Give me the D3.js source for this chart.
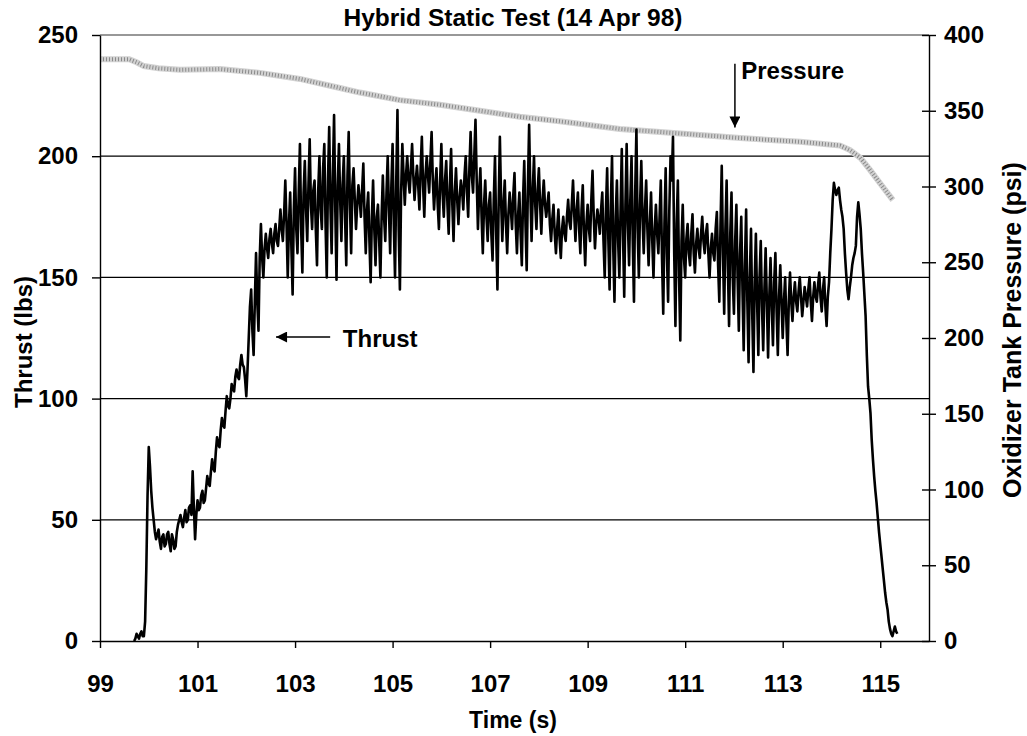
<!DOCTYPE html>
<html>
<head>
  <title>Hybrid Static Test</title>
  <meta charset="utf-8">
  <script src="https://d3js.org/d3.v7.min.js"></script>
  <style>
    body { margin: 0; background: #fff; }
    svg text { font-family: "Liberation Sans", Arial, sans-serif; font-weight: bold; fill: #000; }
    .grid line { stroke: #000; stroke-width: 1.2px; }
    .axis path, .axis line { stroke: #000; stroke-width: 1.4px; }
  </style>
</head>
<body>
  <svg id="chart" width="1027" height="736"></svg>
  <script>
    // time axis ticks (s)
    var timeTicks = [99, 101, 103, 105, 107, 109, 111, 113, 115];
    var thrustTicks = [0, 50, 100, 150, 200, 250];
    var pressureTicks = [0, 50, 100, 150, 200, 250, 300, 350, 400];

    // thrust record (lbs), sampled every 0.05 s starting at 99.70 s
    var thrustStart = 99.70, thrustStep = 0.05;
    var thrust = [
      0, 3, 1, 4, 2, 30, 80, 62, 50, 42,
      46, 38, 44, 40, 45, 37, 42, 39, 48, 52,
      47, 54, 50, 56, 70, 42, 58, 55, 62, 58,
      68, 64, 75, 70, 84, 80, 92, 88, 101, 96,
      106, 103, 112, 108, 118, 113, 101, 125, 145, 118,
      160, 128, 172, 150, 168, 158, 170, 160, 172, 163,
      178, 165, 190, 150, 185, 143, 195, 160, 205, 152,
      198, 165, 207, 170, 190, 155, 200, 170, 205, 150,
      212, 160, 217, 149, 205, 165, 200, 155, 210, 160,
      195, 170, 188, 175, 197, 160, 185, 148, 190, 155,
      180, 150, 192, 165, 200, 160, 205, 150, 219, 145,
      205, 180, 200, 185, 205, 182, 196, 178, 208, 175,
      200, 185, 210, 178, 195, 170, 205, 175, 198, 168,
      203, 165, 195, 172, 190, 178, 200, 175, 210, 185,
      215, 170, 195, 160, 190, 165, 185, 157, 200, 145,
      208, 165, 190, 160, 185, 170, 193, 160, 185, 155,
      198, 153, 213, 165, 200, 170, 195, 168, 190, 175,
      185, 165, 180, 160, 178, 158, 175, 165, 182, 170,
      190, 165, 185, 160, 188, 155, 180, 165, 194, 162,
      178, 168, 185, 150, 195, 145, 200, 140, 190, 150,
      203, 142, 205, 155, 200, 140, 211, 150, 198, 160,
      190, 155, 185, 150, 180, 160, 190, 135, 195, 140,
      200, 208, 130, 190, 124, 180, 150, 172, 155, 176,
      152, 170, 158, 175, 160, 172, 150, 168, 157, 177,
      140, 196, 135, 190, 130, 185, 135, 180, 128, 175,
      120, 178, 115, 170, 111, 168, 118, 165, 120, 162,
      117, 158, 122, 160, 118, 155, 125, 150, 118, 152,
      132, 148, 136, 150, 134, 146, 138, 150, 132, 148,
      140, 152, 136, 150, 130, 148, 170, 189, 184, 187,
      178, 170, 152, 141, 150, 158, 163, 181, 170, 152,
      134, 105, 94, 75, 62, 51, 40, 30, 20, 13,
      5, 2, 6, 3
    ];
    // in-between thrust samples (lbs), at 99.725 s and every 0.05 s after
    var thrustMid = [
      1, 2, 3, 2, 8, 60, 72, 55, 45, 44,
      41, 43, 39, 44, 40, 44, 38, 45, 50, 49,
      51, 49, 55, 52, 55, 52, 54, 60, 57, 63,
      65, 70, 71, 78, 81, 87, 89, 95, 97, 100,
      104, 109, 109, 114, 114, 108, 112, 138, 128, 140,
      140, 158, 158, 162, 162, 166, 164, 168, 165, 170,
      170, 176, 172, 172, 162, 178, 170, 185, 170, 185,
      178, 188, 180, 186, 170, 186, 178, 195, 172, 190,
      180, 192, 178, 188, 182, 188, 175, 192, 180, 188,
      182, 180, 182, 186, 175, 178, 165, 175, 170, 175,
      165, 175, 175, 185, 178, 188, 172, 190, 170, 185,
      192, 192, 190, 195, 192, 190, 188, 195, 188, 192,
      192, 198, 190, 188, 180, 190, 185, 190, 180, 188,
      180, 185, 182, 183, 186, 192, 185, 195, 192, 200,
      190, 185, 175, 180, 175, 180, 168, 182, 168, 180,
      182, 180, 172, 176, 178, 184, 172, 176, 168, 182,
      172, 188, 185, 186, 180, 186, 180, 182, 180, 180,
      172, 174, 168, 170, 166, 170, 168, 175, 173, 180,
      176, 178, 170, 178, 168, 172, 170, 182, 175, 172,
      174, 178, 165, 178, 165, 180, 162, 175, 165, 178,
      168, 180, 172, 182, 165, 185, 170, 180, 175, 178,
      170, 172, 165, 170, 168, 175, 158, 172, 160, 178,
      190, 160, 172, 150, 165, 158, 166, 160, 168, 160,
      164, 162, 168, 165, 168, 160, 162, 160, 170, 155,
      172, 160, 170, 155, 168, 150, 165, 150, 160, 145,
      155, 140, 150, 135, 148, 140, 150, 138, 145, 140,
      142, 138, 148, 136, 142, 140, 140, 132, 140, 140,
      142, 140, 144, 142, 140, 142, 145, 140, 142, 142,
      147, 142, 145, 138, 142, 160, 182, 186, 186, 182,
      175, 160, 145, 146, 155, 160, 175, 176, 160, 143,
      118, 100, 83, 68, 57, 45, 35, 25, 16, 8,
      3, 4, 4
    ];

    // oxidizer tank pressure (psi)
    var pressureTime = [99.0, 99.6, 99.75, 99.9, 100.2, 100.64, 101.46, 102.28, 103.1, 103.92, 104.33,
      105.15, 105.97, 106.79, 107.61, 108.43, 109.66, 110.9, 112.13, 113.36, 114.18,
      114.38, 114.59, 114.79, 115.0, 115.26];
    var pressure = [384, 384, 382, 379.5, 378, 377, 377.5, 375, 371, 365, 362,
      357, 354, 350, 346, 343, 338, 335, 332, 329.5, 327,
      324, 319, 311, 302, 291];

    var thrustData = thrust.map(function (v, i) {
      return { t: thrustStart + i * thrustStep, v: v };
    }).concat(thrustMid.map(function (v, i) {
      return { t: thrustStart + thrustStep / 2 + i * thrustStep, v: v };
    })).sort(function (a, b) { return a.t - b.t; });

    var svg = d3.select('#chart');
    var plotLeft = 100, plotRight = 929, plotTop = 35, plotBottom = 641;

    var x = d3.scaleLinear().domain([99, 116]).range([plotLeft, plotRight]);
    var yT = d3.scaleLinear().domain([0, 250]).range([plotBottom, plotTop]);
    var yP = d3.scaleLinear().domain([0, 400]).range([plotBottom, plotTop]);

    // horizontal gridlines
    svg.append('g').attr('class', 'grid')
      .selectAll('line').data([50, 100, 150, 200]).enter().append('line')
      .attr('x1', plotLeft).attr('x2', plotRight)
      .attr('y1', function (d) { return yT(d); })
      .attr('y2', function (d) { return yT(d); });

    // top border
    svg.append('line')
      .attr('x1', plotLeft).attr('x2', plotRight).attr('y1', plotTop).attr('y2', plotTop)
      .style('stroke', '#333').style('stroke-width', 1.2);

    // pressure line (stippled grey band)
    var pLine = d3.line()
      .x(function (d, i) { return x(pressureTime[i]); })
      .y(function (d) { return yP(d); });
    svg.append('path').datum(pressure)
      .attr('d', pLine)
      .style('fill', 'none').style('stroke', '#d2d2d2').style('stroke-width', 6);
    svg.append('path').datum(pressure)
      .attr('d', pLine)
      .style('fill', 'none').style('stroke', '#8a8a8a').style('stroke-width', 4)
      .style('stroke-dasharray', '1 2');

    // thrust line
    var tLine = d3.line()
      .x(function (d) { return x(d.t); })
      .y(function (d) { return yT(d.v); });
    svg.append('path').datum(thrustData)
      .attr('d', tLine)
      .style('fill', 'none').style('stroke', '#000').style('stroke-width', 2.6)
      .style('stroke-linejoin', 'round');

    // axes
    var xAxis = svg.append('g').attr('class', 'axis')
      .attr('transform', 'translate(0,' + plotBottom + ')')
      .call(d3.axisBottom(x).tickValues(timeTicks).tickSize(7).tickSizeOuter(0).tickPadding(27));
    xAxis.selectAll('text').style('font-size', '24px');

    var lAxis = svg.append('g').attr('class', 'axis')
      .attr('transform', 'translate(' + plotLeft + ',0)')
      .call(d3.axisLeft(yT).tickValues(thrustTicks).tickSize(8).tickSizeOuter(0).tickPadding(14));
    lAxis.selectAll('text').style('font-size', '24px');

    var rAxis = svg.append('g').attr('class', 'axis')
      .attr('transform', 'translate(' + plotRight + ',0)')
      .call(d3.axisRight(yP).tickValues(pressureTicks).tickSize(7).tickSizeOuter(0).tickPadding(8));
    rAxis.selectAll('line').attr('x1', -7);
    rAxis.selectAll('text').style('font-size', '24px');

    // titles
    svg.append('text').attr('x', 513).attr('y', 26)
      .attr('text-anchor', 'middle').style('font-size', '24.5px')
      .text('Hybrid Static Test (14 Apr 98)');
    svg.append('text').attr('x', 513).attr('y', 728)
      .attr('text-anchor', 'middle').style('font-size', '23px')
      .text('Time (s)');
    svg.append('text')
      .attr('transform', 'translate(32,342) rotate(-90)')
      .attr('text-anchor', 'middle').style('font-size', '24px')
      .text('Thrust (lbs)');
    svg.append('text')
      .attr('transform', 'translate(1021,330) rotate(-90)')
      .attr('text-anchor', 'middle').style('font-size', '25px')
      .text('Oxidizer Tank Pressure (psi)');

    // annotations
    svg.append('defs').append('marker')
      .attr('id', 'head').attr('viewBox', '0 0 10 10')
      .attr('refX', 10).attr('refY', 5)
      .attr('markerWidth', 12).attr('markerHeight', 11)
      .attr('markerUnits', 'userSpaceOnUse')
      .attr('orient', 'auto')
      .append('path').attr('d', 'M0,0 L10,5 L0,10 Z').style('fill', '#000');

    svg.append('line')
      .attr('x1', x(112.02)).attr('x2', x(112.02))
      .attr('y1', yP(381)).attr('y2', yP(339))
      .style('stroke', '#000').style('stroke-width', 1.5)
      .attr('marker-end', 'url(#head)');
    svg.append('text').attr('x', x(112.15)).attr('y', yP(371))
      .style('font-size', '24px').text('Pressure');

    svg.append('line')
      .attr('x1', x(103.72)).attr('x2', x(102.61))
      .attr('y1', yT(125.4)).attr('y2', yT(125.4))
      .style('stroke', '#000').style('stroke-width', 1.5)
      .attr('marker-end', 'url(#head)');
    svg.append('text').attr('x', x(103.98)).attr('y', yT(121.3))
      .style('font-size', '24px').text('Thrust');
  </script>
</body>
</html>
